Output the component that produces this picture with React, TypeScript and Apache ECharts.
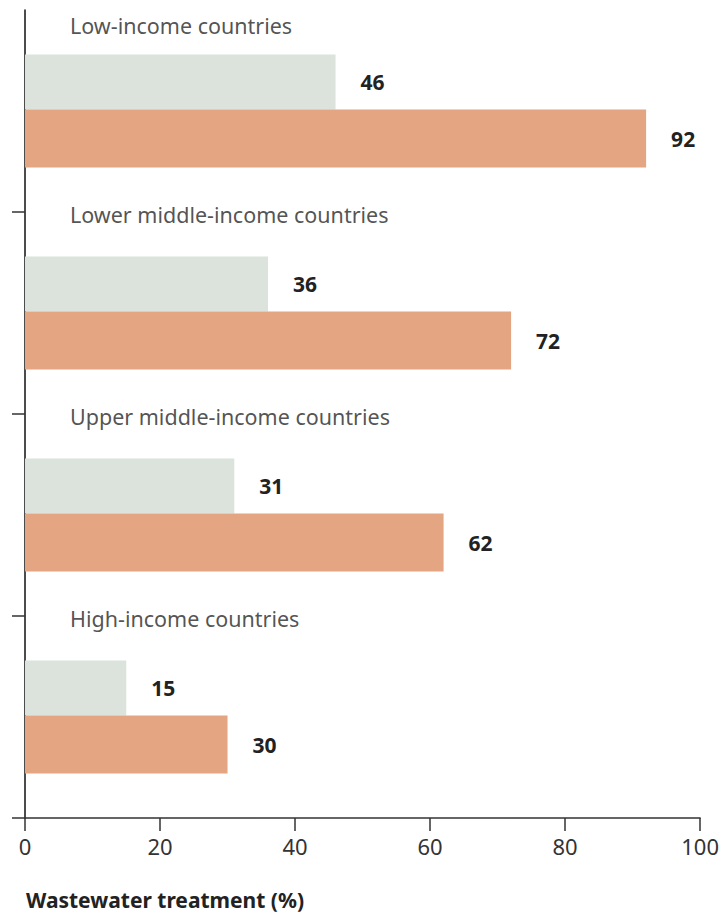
import React, { useEffect, useRef } from "react";
import * as echarts from "echarts";

const categories = [
  "Low-income countries",
  "Lower middle-income countries",
  "Upper middle-income countries",
  "High-income countries",
];
const greyValues = [46, 36, 31, 15];
const orangeValues = [92, 72, 62, 30];
const xTicks = { min: 0, max: 100, interval: 20 };
const axisTitle = "Wastewater treatment (%)";

const FONT = "'Noto Sans', 'Open Sans', sans-serif";

export default function App() {
  const ref = useRef<HTMLDivElement>(null);
  useEffect(() => {
    document.body.style.margin = "0";
    document.body.style.overflow = "hidden";
    if (!ref.current) return;
    const chart = echarts.init(ref.current, null, { renderer: "svg" });
    const valueLabel = {
      show: true,
      position: "right",
      distance: 25,
      fontFamily: FONT,
      fontSize: 21,
      fontWeight: "bold",
      color: "#222",
    };
    chart.setOption({
      animation: false,
      title: {
        text: axisTitle,
        left: 21,
        top: 884,
        textStyle: { fontFamily: FONT, fontSize: 21, fontWeight: "bold", color: "#222" },
      },
      grid: { left: 25, right: 19, top: 10, bottom: 97 },
      xAxis: {
        type: "value",
        min: xTicks.min,
        max: xTicks.max,
        interval: xTicks.interval,
        axisLine: { show: true, lineStyle: { color: "#333", width: 1.5 } },
        axisTick: { show: true, length: 13, lineStyle: { color: "#333", width: 1.5 } },
        axisLabel: { fontFamily: FONT, fontSize: 22, color: "#333", margin: 17 },
        splitLine: { show: false },
      },
      yAxis: {
        type: "category",
        data: categories,
        inverse: true,
        axisLine: { show: true, lineStyle: { color: "#111", width: 1.5 } },
        axisTick: {
          show: true,
          length: 13,
          interval: (i: number) => i !== 0,
          lineStyle: { color: "#333", width: 1.5 },
        },
        axisLabel: { show: false },
      },
      series: [
        {
          type: "bar",
          name: "grey",
          data: greyValues,
          barWidth: 55,
          barGap: "0%",
          itemStyle: { color: "#dce3dc" },
          label: valueLabel,
        },
        {
          type: "bar",
          name: "orange",
          data: orangeValues,
          barWidth: 58,
          barGap: "0%",
          itemStyle: { color: "#e3a582" },
          label: valueLabel,
        },
        {
          type: "scatter",
          symbolSize: 0,
          silent: true,
          data: categories.map((c, i) => ({
            value: [0, c],
            name: c,
            label: { offset: [0, i === 0 ? -86 : -99] },
          })),
          label: {
            show: true,
            position: "right",
            distance: 45,
            formatter: (p: any) => p.name,
            fontFamily: FONT,
            fontSize: 21.5,
            color: "#262626",
          },
          z: 5,
        },
      ],
    });
    return () => chart.dispose();
  }, []);
  return <div ref={ref} style={{ width: 722, height: 915 }} />;
}
